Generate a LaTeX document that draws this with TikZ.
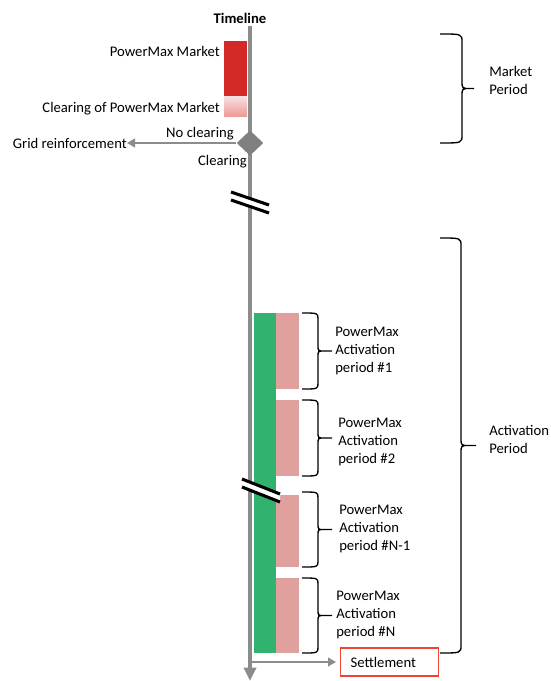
\documentclass[tikz,border=0pt]{standalone}
\usepackage{fontspec}
\setmainfont{Carlito}
\usetikzlibrary{shapes.geometric,arrows.meta}
\definecolor{tlgray}{HTML}{8C8C8C}
\definecolor{dgray}{HTML}{808080}
\definecolor{mktred}{HTML}{D42A27}
\definecolor{actgreen}{HTML}{31B36F}
\definecolor{actpink}{HTML}{E0A19E}
\definecolor{gradtop}{HTML}{F8DEDE}
\definecolor{gradbot}{HTML}{EC9694}
\definecolor{setred}{HTML}{EC4632}
\newcommand{\BraceR}[6]{%
  \draw[bracestyle] (#1,#4) .. controls (#2,#4) .. (#2,{#4+#6})
    -- (#2,{(#4+#5)/2-#6}) .. controls (#2,{(#4+#5)/2}) .. ({#2+#6},{(#4+#5)/2})
    -- (#3,{(#4+#5)/2})
    ({#2+#6},{(#4+#5)/2}) .. controls (#2,{(#4+#5)/2}) .. (#2,{(#4+#5)/2+#6})
    -- (#2,{#5-#6}) .. controls (#2,#5) .. (#1,#5);}
\tikzset{
  lbl/.style={font=\fontsize{11}{13.5}\selectfont, inner sep=0pt, text=black},
  mlbl/.style={lbl, align=left, anchor=west},
  bracestyle/.style={line width=1pt, black},
  breakline/.style={line width=2.3pt, black},
  thinarrow/.style={draw=tlgray, line width=1.5pt, -{Triangle[width=6.5pt,length=6pt]}},
}
\begin{document}
\begin{tikzpicture}[x=0.75pt,y=-0.75pt]
\useasboundingbox (0,0) rectangle (550,681);
% timeline
\node[lbl, font=\fontsize{11}{13.5}\selectfont\bfseries] (tltitle) at (240,18) {Timeline};
\coordinate (tltop) at (250,26);
\coordinate (tlbot) at (250,681);
\draw[tlgray, line width=3pt, -{Triangle[width=9pt,length=10pt]}] (tltop) -- (tlbot);
% market boxes
\fill[mktred] (224,41) rectangle (247,97);
\shade[top color=gradtop, bottom color=gradbot] (224,97) rectangle (247,117);
\node[lbl, anchor=east] (pmm) at (220,51) {PowerMax Market};
\node[lbl, anchor=east] (clr) at (220,109) {Clearing of PowerMax Market};
% decision
\node[diamond, fill=dgray, inner sep=0pt, minimum width=20pt, minimum height=19pt] (dec) at (250,143) {};
\node[lbl, anchor=east] (grid) at (127,143) {Grid reinforcement};
\draw[thinarrow] (dec.west) -- (grid.east);
\node[lbl, anchor=east] (nocl) at (234,134) {No clearing};
\node[lbl, anchor=east] (cl) at (247,162) {Clearing};
% break 1
\fill[white] (231,192) -- (269,205) -- (269,213) -- (231,200) -- cycle;
\draw[breakline] (231,192) -- (269,205);
\draw[breakline] (231,200) -- (269,213);
% activation bars
\fill[actgreen] (254,313) rectangle (276,653);
\fill[actpink] (276,313) rectangle (299,389);
\fill[actpink] (276,400) rectangle (299,476);
\fill[actpink] (276,495) rectangle (299,567);
\fill[actpink] (276,578) rectangle (299,653);
% break 2
\fill[white] (242,479) -- (280,494) -- (280,502) -- (242,487) -- cycle;
\draw[breakline] (242,479) -- (280,494);
\draw[breakline] (242,487) -- (280,502);
% small braces
\BraceR{302}{318}{332}{313}{389}{6}
\BraceR{302}{318}{332}{400}{476}{6}
\BraceR{302}{318}{332}{492}{567}{6}
\BraceR{302}{318}{332}{578}{653}{6}
\node[mlbl] (a1) at (335,351) {PowerMax\\Activation\\period \#1};
\node[mlbl] (a2) at (338,442) {PowerMax\\Activation\\period \#2};
\node[mlbl] (a3) at (339,529) {PowerMax\\Activation\\period \#N-1};
\node[mlbl] (a4) at (336,615) {PowerMax\\Activation\\period \#N};
% big braces
\BraceR{440}{462}{474}{34}{143}{8}
\BraceR{440}{461}{476}{238}{653}{8}
\node[mlbl, font=\fontsize{11}{13}\selectfont] (mp) at (489,80.5) {Market\\Period};
\node[mlbl, font=\fontsize{11}{13}\selectfont] (ap) at (489,439.5) {Activation\\Period};
% settlement
\node[lbl, draw=setred, line width=0.9pt, anchor=west, minimum height=21pt, text width=58.5pt, inner xsep=7.5pt, align=left] (settle) at (340,662) {Settlement};
\coordinate (sstart) at (251,662);
\draw[thinarrow] (sstart) -- ([xshift=-3pt]settle.west);
\end{tikzpicture}
\end{document}
